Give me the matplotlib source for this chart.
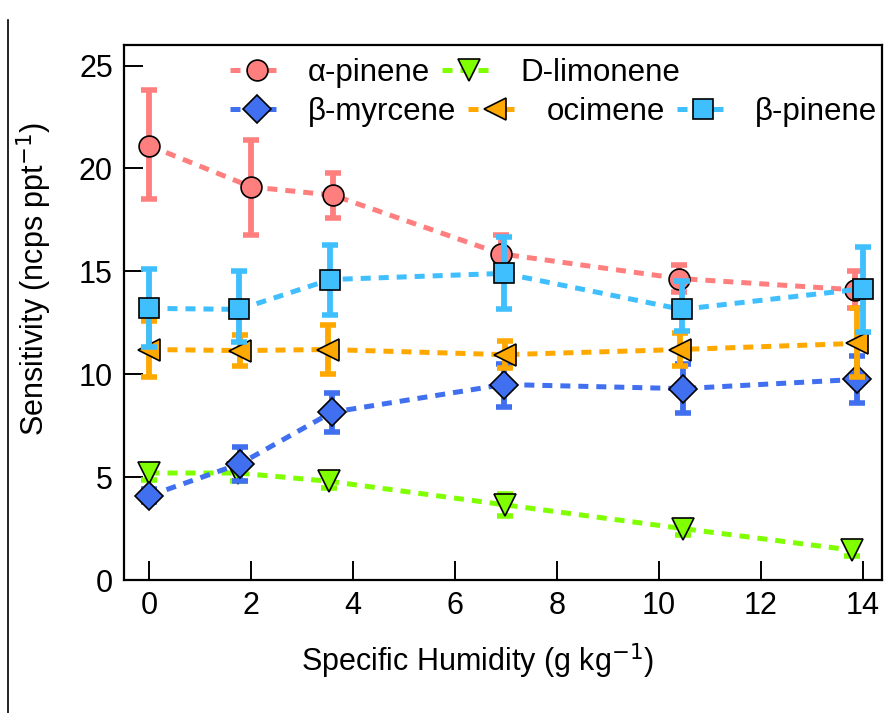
import matplotlib
matplotlib.use("Agg")
import matplotlib.pyplot as plt
from matplotlib.lines import Line2D

plt.rcParams['font.family'] = ['Liberation Sans', 'DejaVu Sans']

# alpha-pinene
ap_x = [0, 2.0, 3.6, 6.9, 10.4, 13.85]
ap_y = [21.1, 19.1, 18.7, 15.85, 14.65, 14.1]
ap_lo = [2.6, 2.35, 1.1, 0.9, 0.65, 0.9]
ap_hi = [2.7, 2.3, 1.1, 0.9, 0.65, 0.9]

# D-limonene
lim_x = [0, 1.74, 3.52, 6.99, 10.47, 13.8]
lim_y = [5.2, 5.2, 4.8, 3.65, 2.5, 1.45]
lim_err = [0.35, 0.4, 0.35, 0.55, 0.3, 0.3]

# beta-myrcene
my_x = [0, 1.78, 3.58, 6.96, 10.47, 13.9]
my_y = [4.1, 5.65, 8.15, 9.5, 9.3, 9.75]
my_lo = [0.3, 0.85, 0.95, 1.1, 1.2, 1.15]
my_hi = [0.3, 0.8, 0.95, 1.0, 1.2, 1.15]

# ocimene
oc_x = [0, 1.78, 3.5, 6.98, 10.42, 13.9]
oc_y = [11.2, 11.15, 11.2, 10.95, 11.2, 11.5]
oc_lo = [1.35, 0.75, 1.2, 0.65, 0.8, 1.65]
oc_hi = [1.4, 0.75, 1.2, 0.65, 0.8, 1.7]

# beta-pinene
bp_x = [0, 1.76, 3.55, 6.96, 10.45, 14.0]
bp_y = [13.2, 13.15, 14.6, 14.9, 13.15, 14.15]
bp_lo = [1.9, 1.6, 1.7, 1.75, 1.05, 2.1]
bp_hi = [1.9, 1.85, 1.7, 1.75, 1.4, 2.05]

series = [
    ("\u03b1-pinene", ap_x, ap_y, [ap_lo, ap_hi], "#FF7F7F", "o", 15),
    ("D-limonene", lim_x, lim_y, [lim_err, lim_err], "#80FF00", "v", 16),
    ("\u03b2-myrcene", my_x, my_y, [my_lo, my_hi], "#4070F0", "D", 14),
    ("ocimene", oc_x, oc_y, [oc_lo, oc_hi], "#FFA800", "<", 16),
    ("\u03b2-pinene", bp_x, bp_y, [bp_lo, bp_hi], "#40BFFF", "s", 14),
]

fig = plt.figure(figsize=(8.89, 7.13), dpi=100)
ax = fig.add_axes([0.1395, 0.1865, 0.8525, 0.7505])

handles = []
for name, x, y, err, col, mk, ms in series:
    ax.errorbar(x, y, yerr=err, fmt="none", ecolor=col, elinewidth=4.2,
                capsize=6, capthick=4)
    h, = ax.plot(x, y, color=col, ls=(0, (2, 1.6)), lw=3.6, marker=mk, ms=ms,
                 mfc=col, mec="black", mew=1.2, label=name)
    handles.append(h)

ax.set_xlim(-0.5, 14.38)
ax.set_ylim(0, 26)
ax.set_xticks(range(0, 15, 2))
ax.set_yticks(range(0, 26, 5))
ax.tick_params(direction="in", length=13.7, width=1.4, labelsize=22, pad=8)
for s in ax.spines.values():
    s.set_linewidth(1.6)

ax.set_xlabel("Specific Humidity (g kg$^{-1}$)", fontsize=22)
ax.set_ylabel("Sensitivity (ncps ppt$^{-1}$)", fontsize=22)
ax.xaxis.set_label_coords(0.467, -0.114)
ax.yaxis.set_label_coords(-0.092, 0.563)

leg_kw = dict(frameon=False, fontsize=22.5, handlelength=1.7,
              handletextpad=0.8, columnspacing=0.38, borderpad=0,
              borderaxespad=0, loc="center left")
leg1 = ax.legend(handles=handles[:2], ncol=2, bbox_to_anchor=(0.14, 0.948),
                 **leg_kw)
ax.add_artist(leg1)
ax.legend(handles=handles[2:], ncol=3, bbox_to_anchor=(0.14, 0.875), **leg_kw)

# frame line at far left
fig.add_artist(Line2D([0.009, 0.009], [0.0, 0.972], color="black", lw=1.2,
                      transform=fig.transFigure))

fig.savefig("out.png", dpi=100)
